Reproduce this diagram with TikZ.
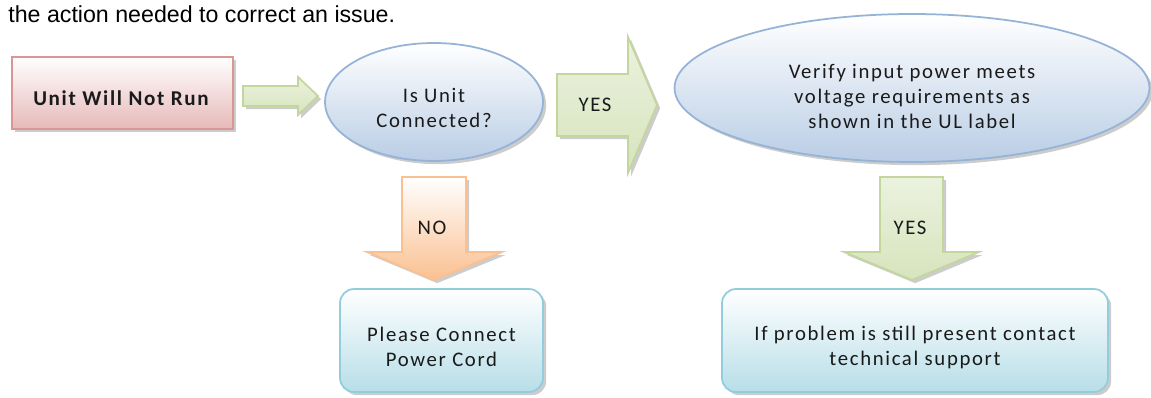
\documentclass[tikz,border=0pt]{standalone}
\usepackage{fontspec}
\setmainfont{Liberation Sans}
\newfontfamily\calfont[LetterSpace=8]{Carlito}
\usetikzlibrary{shapes.geometric,shadows}
\definecolor{redfill}{HTML}{E6B9B8}
\definecolor{redline}{HTML}{D99694}
\definecolor{greenfill}{HTML}{D7E4BD}
\definecolor{greenline}{HTML}{C3D69B}
\definecolor{bluefill}{HTML}{B9CDE5}
\definecolor{blueline}{HTML}{95B3D7}
\definecolor{orangefill}{HTML}{FAC090}
\definecolor{orangeline}{HTML}{FAC090}
\definecolor{tealfill}{HTML}{B7DEE8}
\definecolor{tealline}{HTML}{93CDDD}
\definecolor{textcol}{HTML}{1A1A1A}

\begin{document}
\begin{tikzpicture}[x=0.02cm,y=-0.02cm,
  my shadow/.style={drop shadow={shadow xshift=1.8pt,shadow yshift=-1.8pt,opacity=0.4}},
  my text/.style={font=\calfont\fontsize{11.8}{14.2}\selectfont,text=textcol,align=center},
  red box/.style={my shadow,draw=redline,line width=1pt,
    top color=white,bottom color=redfill,minimum width=4.42cm,minimum height=1.44cm},
  my ellipse/.style={my shadow,ellipse,draw=blueline,line width=1pt,
    top color=white,bottom color=bluefill,inner sep=0pt},
  teal box/.style={my shadow,draw=tealline,line width=1pt,rounded corners=0.28cm,
    top color=white,bottom color=tealfill,minimum height=2.06cm},
  green arrow/.style={my shadow,draw=greenline,line width=1pt,top color=white!50!greenfill,bottom color=greenfill},
  orange arrow/.style={my shadow,draw=orangeline,line width=1pt,top color=white,bottom color=orangefill},
  ]
  \useasboundingbox (0,0) rectangle (1151,398);
  \node[anchor=base west,inner sep=0pt,font=\fontsize{13.2}{15}\selectfont] (intro) at (8,23) {the action needed to correct an issue.};

  % boxes and ellipses
  \node[red box] (run) at (122.5,93) {};
  \node[my ellipse,minimum width=4.36cm,minimum height=2.36cm] (conn) at (434,102) {};
  \node[my ellipse,minimum width=9.5cm,minimum height=2.96cm] (volt) at (912,88) {};
  \node[teal box,minimum width=4.06cm] (cord) at (441.5,340.5) {};
  \node[teal box,minimum width=7.72cm] (support) at (915,340.5) {};

  % block arrows
  \path[green arrow] (243,86) -- (298,86) -- (298,77) -- (318,96) -- (298,115) -- (298,106) -- (243,106) -- cycle;
  \path[green arrow] (557,74) -- (628,74) -- (628,37) -- (657,105) -- (628,173) -- (628,136) -- (557,136) -- cycle;
  \path[orange arrow] (402,177) -- (466,177) -- (466,252) -- (502,252) -- (434,280) -- (367,252) -- (402,252) -- cycle;
  \path[green arrow] (880,177) -- (943,177) -- (943,252) -- (979,252) -- (912,280) -- (844,252) -- (880,252) -- cycle;

  % texts
  \node[my text,font=\calfont\fontsize{12}{14.2}\selectfont\bfseries] (runtext) at (121,98) {Unit Will Not Run};
  \node[my text] (conntext) at (434,108) {Is Unit\\Connected?};
  \node[my text] (volttext) at (912,96) {Verify input power meets\\voltage requirements as\\shown in the UL label};
  \node[my text] (cordtext) at (441.5,347) {Please Connect\\Power Cord};
  \node[my text] (supporttext) at (915,347) {If problem is still present contact\\technical support};
  \node[my text] (yes1) at (595,105) {YES};
  \node[my text] (no) at (432,228) {NO};
  \node[my text] (yes2) at (910,228) {YES};
\end{tikzpicture}
\end{document}
